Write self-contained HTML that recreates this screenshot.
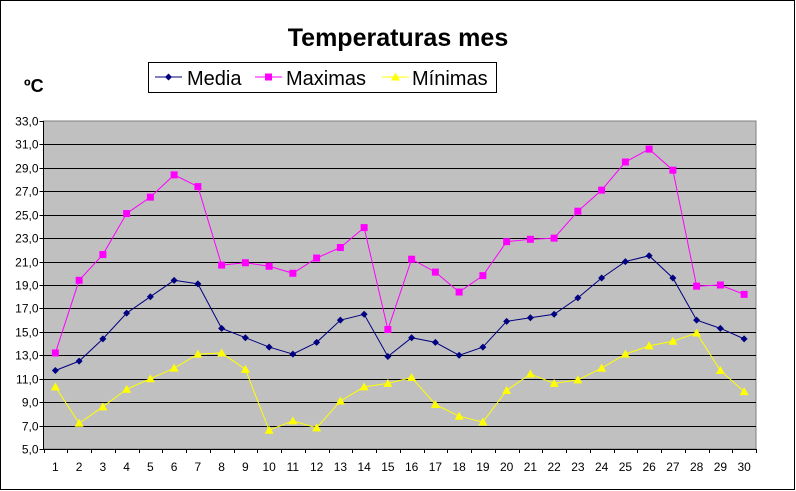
<!DOCTYPE html>
<html><head><meta charset="utf-8"><style>
body{margin:0;background:#fff}
svg{display:block;font-family:"Liberation Sans",Arial,sans-serif}
</style></head><body>
<svg id="s" width="796" height="491" xmlns="http://www.w3.org/2000/svg">
<rect x="0.5" y="0.5" width="794" height="489" fill="#fff" stroke="#000"/>
<text x="398" y="46" font-size="25" font-weight="bold" text-anchor="middle">Temperaturas mes</text>
<text x="24" y="92" font-size="18" font-weight="bold">ºC</text>
<rect x="148.5" y="62.5" width="348" height="30" fill="#fff" stroke="#000"/>
<line x1="155" y1="77" x2="182" y2="77" stroke="#000080"/>
<path d="M168.5 73.5 L172 77 L168.5 80.5 L165 77Z" fill="#000080"/>
<text x="187" y="85" font-size="20">Media</text>
<line x1="255" y1="77" x2="282" y2="77" stroke="#ff00ff"/>
<rect x="265" y="73.5" width="7" height="7" fill="#ff00ff"/>
<text x="286" y="85" font-size="20">Maximas</text>
<line x1="382" y1="77" x2="409" y2="77" stroke="#ffff00"/>
<path d="M395.5 72.5 L400 80.5 L391 80.5Z" fill="#ffff00"/>
<text x="412" y="85" font-size="20">Mínimas</text>
<g id="g"></g>
</svg>
<script>
var L=43.5,T=121,B=449,W=23.75,R=L+30*W;
function y(v){return B-(v-5)*(B-T)/28;}
function x(i){return L+W*(i+0.5);}
var h='<rect x="'+L+'" y="'+T+'" width="'+(R-L)+'" height="'+(B-T)+'" fill="#c0c0c0" stroke="#808080"/>';
for(var v=5;v<=33;v+=2){var yy=Math.round(y(v))+0.5;
 if(v>5&&v<33)h+='<line x1="'+L+'" y1="'+yy+'" x2="'+R+'" y2="'+yy+'" stroke="#000"/>';
 h+='<line x1="'+(L-4)+'" y1="'+yy+'" x2="'+L+'" y2="'+yy+'" stroke="#000"/>';
 h+='<text x="'+(L-5)+'" y="'+(yy+4)+'" font-size="12" text-anchor="end">'+v+',0</text>';}
h+='<line x1="'+L+'" y1="'+T+'" x2="'+L+'" y2="'+B+'" stroke="#000"/><line x1="'+L+'" y1="'+(B+0.5)+'" x2="'+R+'" y2="'+(B+0.5)+'" stroke="#000"/>';
for(var i=0;i<=30;i++){var xx=Math.round(L+W*i)+0.5;h+='<line x1="'+xx+'" y1="'+B+'" x2="'+xx+'" y2="'+(B+4)+'" stroke="#000"/>';}
for(var i=0;i<30;i++)h+='<text x="'+x(i)+'" y="471" font-size="12" text-anchor="middle">'+(i+1)+'</text>';
var me=[11.7,12.5,14.4,16.6,18.0,19.4,19.1,15.3,14.5,13.7,13.1,14.1,16.0,16.5,12.9,14.5,14.1,13.0,13.7,15.9,16.2,16.5,17.9,19.6,21.0,21.5,19.6,16.0,15.3,14.4];
var mx=[13.2,19.4,21.6,25.1,26.5,28.4,27.4,20.7,20.9,20.6,20.0,21.3,22.2,23.9,15.2,21.2,20.1,18.4,19.8,22.7,22.9,23.0,25.3,27.1,29.5,30.6,28.8,18.9,19.0,18.2];
var mn=[10.3,7.2,8.6,10.1,11.0,11.9,13.1,13.2,11.8,6.6,7.4,6.8,9.1,10.3,10.6,11.1,8.8,7.8,7.3,10.0,11.4,10.6,10.9,11.9,13.1,13.8,14.2,14.9,11.7,9.9];
function line(d,c){return '<polyline fill="none" stroke="'+c+'" points="'+d.map(function(v,i){return x(i)+','+y(v)}).join(' ')+'"/>';}
h+=line(mx,'#ff00ff')+line(me,'#000080')+line(mn,'#ffff00');
mx.forEach(function(v,i){h+='<rect x="'+(x(i)-3.5)+'" y="'+(y(v)-3.5)+'" width="7" height="7" fill="#ff00ff"/>';});
me.forEach(function(v,i){var a=x(i),b=y(v);h+='<path d="M'+a+' '+(b-3.5)+'L'+(a+3.5)+' '+b+'L'+a+' '+(b+3.5)+'L'+(a-3.5)+' '+b+'Z" fill="#000080"/>';});
mn.forEach(function(v,i){var a=x(i),b=y(v);h+='<path d="M'+a+' '+(b-4.5)+'L'+(a+4.5)+' '+(b+3.5)+'L'+(a-4.5)+' '+(b+3.5)+'Z" fill="#ffff00"/>';});
document.getElementById('g').innerHTML=h;
</script>
</body></html>
